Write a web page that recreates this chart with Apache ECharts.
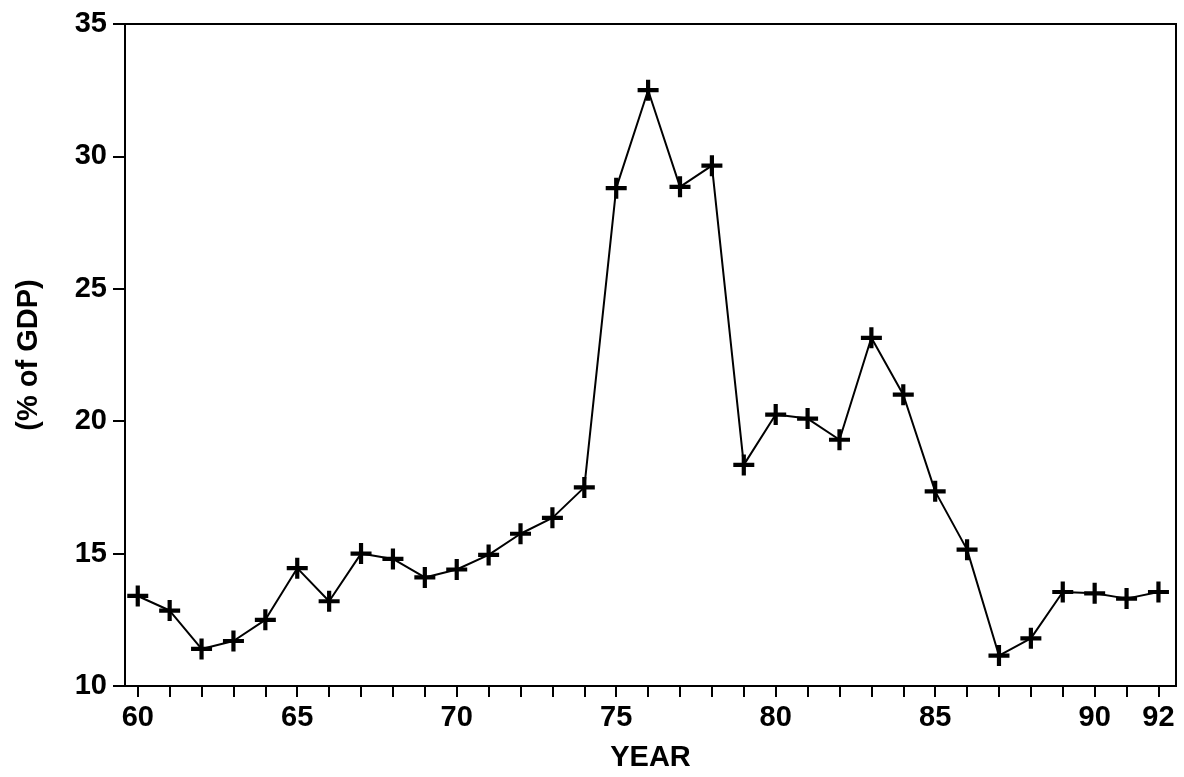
<!DOCTYPE html>
<html>
<head>
<meta charset="utf-8">
<script src="https://cdn.jsdelivr.net/npm/echarts@6/dist/echarts.min.js"></script>
<style>
  html, body { margin: 0; padding: 0; background: #fff; }
  #chart { width: 1184px; height: 777px; }
</style>
</head>
<body>
<div id="chart"></div>
<script>
// 年份 (19xx) 与数值 (% of GDP)
const years = [60, 61, 62, 63, 64, 65, 66, 67, 68, 69, 70, 71, 72, 73, 74, 75, 76,
               77, 78, 79, 80, 81, 82, 83, 84, 85, 86, 87, 88, 89, 90, 91, 92];
const values = [13.4, 12.85, 11.4, 11.7, 12.5, 14.45, 13.2, 15.0, 14.8, 14.1, 14.4, 14.95,
                15.75, 16.35, 17.5, 28.8, 32.5, 28.85, 29.65, 18.35, 20.25, 20.1, 19.3,
                23.15, 21.0, 17.35, 15.15, 11.15, 11.8, 13.55, 13.5, 13.3, 13.55];
const xLabels = [60, 65, 70, 75, 80, 85, 90, 92];
const yTicks = [10, 15, 20, 25, 30, 35];

const FONT = 'Liberation Sans, Arial, sans-serif';
const TEXT = { fontFamily: FONT, fontSize: 29, fontWeight: 'bold', color: '#000' };
// "+" 号标记
const PLUS = 'path://M-2,-10 L2,-10 L2,-2 L10,-2 L10,2 L2,2 L2,10 L-2,10 L-2,2 L-10,2 L-10,-2 L-2,-2 Z';

const chart = echarts.init(document.getElementById('chart'));

const option = {
    animation: false,
    backgroundColor: '#fff',
    grid: {
        left: 125, right: 8, top: 24, bottom: 91,
        show: true, borderColor: '#000', borderWidth: 2
    },
    xAxis: {
        type: 'value',
        min: 59.6,
        max: 92.55,
        name: 'YEAR',
        nameLocation: 'middle',
        nameGap: 57,
        nameTextStyle: TEXT,
        splitLine: { show: false },
        axisLine: { show: true, lineStyle: { color: '#000', width: 2 } },
        axisTick: {
            show: true, length: 11, inside: false,
            customValues: years,
            lineStyle: { color: '#000', width: 2 }
        },
        axisLabel: Object.assign({ customValues: xLabels, margin: 17 }, TEXT)
    },
    yAxis: {
        type: 'value',
        min: 10,
        max: 35,
        interval: 5,
        name: '(% of GDP)',
        nameLocation: 'middle',
        nameRotate: 90,
        nameGap: 82,
        nameTextStyle: TEXT,
        splitLine: { show: false },
        axisLine: { show: true, lineStyle: { color: '#000', width: 2 } },
        axisTick: { show: true, length: 12, lineStyle: { color: '#000', width: 2 } },
        axisLabel: Object.assign({ customValues: yTicks, margin: 18 }, TEXT)
    },
    series: [{
        type: 'line',
        data: years.map((y, i) => [y, values[i]]),
        symbol: PLUS,
        symbolSize: 21,
        showSymbol: true,
        itemStyle: { color: '#000' },
        lineStyle: { color: '#000', width: 2 },
        z: 3
    }]
};

chart.setOption(option);
</script>
</body>
</html>
